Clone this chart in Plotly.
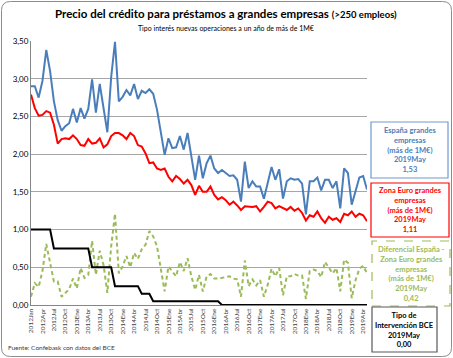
import plotly.graph_objects as go

# ---------------- data ----------------
names_2012 = ["Jan", "Feb", "Mar", "Apr", "May", "Jun", "Jul", "Aug", "Sep", "Oct", "Nov", "Dec"]
names_es = ["Ene", "Feb", "Mar", "Abr", "May", "Jun", "Jul", "Ago", "Sep", "Oct", "Nov", "Dic"]
months = ["2012" + m for m in names_2012] + [f"{y}{m}" for y in range(2013, 2020) for m in names_es]
months = months[:89]  # 2012Jan .. 2019May

tick_labels = ["2012Jan", "2012Apr", "2012Jul", "2012Oct",
               "2013Ene", "2013Abr", "2013Jul", "2013Oct",
               "2014Ene", "2014Abr", "2014Jul", "2014Oct",
               "2015Ene", "2015Abr", "2015Jul", "2015Oct",
               "2016Ene", "2016Abr", "2016Jul", "2016Oct",
               "2017Ene", "2017Abr", "2017Jul", "2017Oct",
               "2018Ene", "2018Abr", "2018Jul", "2018Oct",
               "2019Ene", "2019Abr"]

espana = [2.90, 2.90, 2.75, 2.97, 3.38, 3.10, 2.70, 2.45, 2.31, 2.37,
          2.41, 2.60, 2.42, 2.61, 2.47, 2.60, 2.99, 2.55, 2.93, 2.62,
          2.29, 3.02, 3.49, 2.70, 2.76, 2.85, 2.78, 2.93, 2.73, 2.84,
          2.81, 2.86, 2.80, 2.59, 2.28, 1.99, 2.21, 2.08, 2.09, 2.24,
          2.06, 2.28, 1.97, 1.66, 1.98, 1.68, 1.88, 1.98, 1.81, 1.75,
          1.79, 1.75, 1.71, 1.72, 1.66, 1.37, 1.90, 1.55, 1.64, 1.57,
          1.57, 1.41, 1.64, 1.83, 1.66, 1.80, 1.41, 1.64, 1.68, 1.66,
          1.67, 1.61, 1.20, 1.64, 1.64, 1.69, 1.52, 1.66, 1.66, 1.55,
          1.64, 1.28, 1.81, 1.75, 1.33, 1.50, 1.69, 1.71, 1.53]

zona_euro = [2.79, 2.61, 2.51, 2.52, 2.57, 2.55, 2.39, 2.14, 2.20, 2.21,
             2.20, 2.25, 2.20, 2.12, 2.11, 2.20, 2.14, 2.15, 2.21, 2.09,
             2.13, 2.24, 2.28, 2.28, 2.25, 2.20, 2.28, 2.24, 2.12, 2.10,
             2.01, 1.88, 1.89, 1.81, 1.79, 1.81, 1.70, 1.64, 1.71, 1.67,
             1.61, 1.66, 1.59, 1.46, 1.58, 1.50, 1.50, 1.57, 1.46, 1.40,
             1.43, 1.39, 1.33, 1.37, 1.32, 1.26, 1.31, 1.30, 1.30, 1.31,
             1.24, 1.30, 1.37, 1.35, 1.28, 1.31, 1.28, 1.26, 1.30, 1.25,
             1.28, 1.22, 1.12, 1.19, 1.17, 1.24, 1.15, 1.09, 1.17, 1.13,
             1.15, 1.10, 1.21, 1.19, 1.24, 1.17, 1.21, 1.19, 1.11]

diferencial = [0.11, 0.29, 0.24, 0.45, 0.81, 0.55, 0.31, 0.31, 0.11, 0.16,
               0.21, 0.35, 0.22, 0.49, 0.36, 0.40, 0.85, 0.40, 0.72, 0.53,
               0.16, 0.78, 1.21, 0.42, 0.51, 0.65, 0.50, 0.69, 0.61, 0.74,
               0.80, 0.98, 0.91, 0.78, 0.49, 0.18, 0.51, 0.44, 0.38, 0.57,
               0.45, 0.62, 0.38, 0.20, 0.40, 0.18, 0.38, 0.41, 0.35, 0.35,
               0.36, 0.36, 0.38, 0.35, 0.34, 0.11, 0.59, 0.25, 0.34, 0.26,
               0.33, 0.11, 0.27, 0.48, 0.38, 0.49, 0.13, 0.38, 0.38, 0.41,
               0.39, 0.39, 0.08, 0.45, 0.47, 0.45, 0.37, 0.57, 0.49, 0.42,
               0.49, 0.18, 0.60, 0.56, 0.09, 0.33, 0.48, 0.52, 0.42]

tipo_bce = [1.00, 1.00, 1.00, 1.00, 1.00, 1.00, 0.75, 0.75, 0.75, 0.75,
            0.75, 0.75, 0.75, 0.75, 0.75, 0.75, 0.50, 0.50, 0.50, 0.50,
            0.50, 0.50, 0.25, 0.25, 0.25, 0.25, 0.25, 0.25, 0.25, 0.15,
            0.15, 0.15, 0.05, 0.05, 0.05, 0.05, 0.05, 0.05, 0.05, 0.05,
            0.05, 0.05, 0.05, 0.05, 0.05, 0.05, 0.05, 0.05, 0.05, 0.05,
            0.00, 0.00, 0.00, 0.00, 0.00, 0.00, 0.00, 0.00, 0.00, 0.00,
            0.00, 0.00, 0.00, 0.00, 0.00, 0.00, 0.00, 0.00, 0.00, 0.00,
            0.00, 0.00, 0.00, 0.00, 0.00, 0.00, 0.00, 0.00, 0.00, 0.00,
            0.00, 0.00, 0.00, 0.00, 0.00, 0.00, 0.00, 0.00, 0.00]

# ---------------- layout geometry ----------------
W, H = 453, 358
L, R, T, B = 31, 86, 41, 53
PW, PH = W - L - R, H - T - B


def px(x):
    return (x - L) / PW


def py(y):
    return (H - B - y) / PH


FONT = "Lato, 'Open Sans', 'Liberation Sans', sans-serif"
BLUE, RED, GREEN, BLACK = "#4A7EBB", "#FF0000", "#9BBB59", "#000000"

fig = go.Figure()
fig.add_trace(go.Scatter(x=months, y=espana, mode="lines",
                         line=dict(color=BLUE, width=2), hoverinfo="skip"))
fig.add_trace(go.Scatter(x=months, y=zona_euro, mode="lines",
                         line=dict(color=RED, width=2), hoverinfo="skip"))
fig.add_trace(go.Scatter(x=months, y=diferencial, mode="lines",
                         line=dict(color=GREEN, width=2, dash="4px,3px"), hoverinfo="skip"))
fig.add_trace(go.Scatter(x=months, y=tipo_bce, mode="lines",
                         line=dict(color=BLACK, width=2), hoverinfo="skip"))

shapes = []
# outer rounded frame
r = 9
x0, y0, x1, y1 = 1.5, 1.5, 451.5, 356.5
path = (f"M {px(x0 + r)} {py(y0)} L {px(x1 - r)} {py(y0)} Q {px(x1)} {py(y0)} {px(x1)} {py(y0 + r)} "
        f"L {px(x1)} {py(y1 - r)} Q {px(x1)} {py(y1)} {px(x1 - r)} {py(y1)} "
        f"L {px(x0 + r)} {py(y1)} Q {px(x0)} {py(y1)} {px(x0)} {py(y1 - r)} "
        f"L {px(x0)} {py(y0 + r)} Q {px(x0)} {py(y0)} {px(x0 + r)} {py(y0)} Z")
shapes.append(dict(type="path", xref="paper", yref="paper", path=path,
                   line=dict(color="#8C8C8C", width=1)))

boxes = [
    # (x0, y0, x1, y1, border colour, dash, text colour, text)
    (371, 122, 448, 178, "#6F9AD0", "solid", BLUE,
     "España grandes<br>empresas<br>(más de 1M€)<br>2019May<br>1,53"),
    (371, 183, 449, 237, RED, "solid", RED,
     "Zona Euro grandes<br>empresas<br>(más de 1M€)<br>2019May<br>1,11"),
    (372, 241, 450, 306, GREEN, "dash", GREEN,
     "Diferencial España -<br>Zona Euro grandes<br>empresas<br>(más de 1M€)<br>2019May<br>0,42"),
    (372, 307, 437, 352, "#595959", "solid", BLACK,
     "Tipo de<br>Intervención BCE<br>2019May<br>0,00"),
]
annotations = []
for bx0, by0, bx1, by1, bc, dash, tc, txt in boxes:
    shapes.append(dict(type="rect", xref="paper", yref="paper",
                       x0=px(bx0), x1=px(bx1), y0=py(by1), y1=py(by0),
                       fillcolor="white", line=dict(color=bc, width=1.2, dash=dash)))
    annotations.append(dict(xref="paper", yref="paper", x=px((bx0 + bx1) / 2), y=py((by0 + by1) / 2),
                            text="<b>" + txt + "</b>", showarrow=False, align="center",
                            xanchor="center", yanchor="middle",
                            font=dict(family=FONT, size=7.5, color=tc)))

annotations.append(dict(xref="paper", yref="paper", x=px(226), y=py(14), xanchor="center", yanchor="middle",
                        text="<b>Precio del crédito para préstamos a grandes empresas</b> "
                             "<b><span style='font-size:9.5px'>(>250 empleos)</span></b>",
                        showarrow=False, font=dict(family=FONT, size=11.5, color="#000000")))
annotations.append(dict(xref="paper", yref="paper", x=px(226), y=py(28), xanchor="center", yanchor="middle",
                        text="Tipo interés nuevas operaciones a un año de más de 1M€",
                        showarrow=False, font=dict(family=FONT, size=7, color="#000000")))
annotations.append(dict(xref="paper", yref="paper", x=px(6), y=py(347), xanchor="left", yanchor="middle",
                        text="Fuente: Confebask con datos del BCE",
                        showarrow=False, font=dict(family=FONT, size=6.5, color="#404040")))

fig.update_layout(
    width=W, height=H,
    margin=dict(l=L, r=R, t=T, b=B, autoexpand=False),
    paper_bgcolor="white", plot_bgcolor="white",
    showlegend=False,
    separators=",.",
    font=dict(family=FONT, color="#000000"),
    shapes=shapes, annotations=annotations,
    xaxis=dict(type="category", range=[0, 88], tickmode="array",
               tickvals=tick_labels, ticktext=tick_labels, tickangle=-90,
               tickfont=dict(family=FONT, size=6.5, color="#404040"),
               showgrid=False, showline=True, linecolor="#868686", linewidth=1,
               ticks="", zeroline=False, fixedrange=True),
    yaxis=dict(range=[0, 3.5], dtick=0.5, tick0=0, tickformat=".2f",
               tickfont=dict(family=FONT, size=8, color="#000000"),
               showgrid=True, gridcolor="#A6A6A6", gridwidth=1,
               showline=True, linecolor="#868686", linewidth=1,
               ticks="", zeroline=False, fixedrange=True),
)

fig.write_html("out.html", config={"displayModeBar": False},
               post_script="document.body.style.margin='0px';document.body.style.padding='0px';")
